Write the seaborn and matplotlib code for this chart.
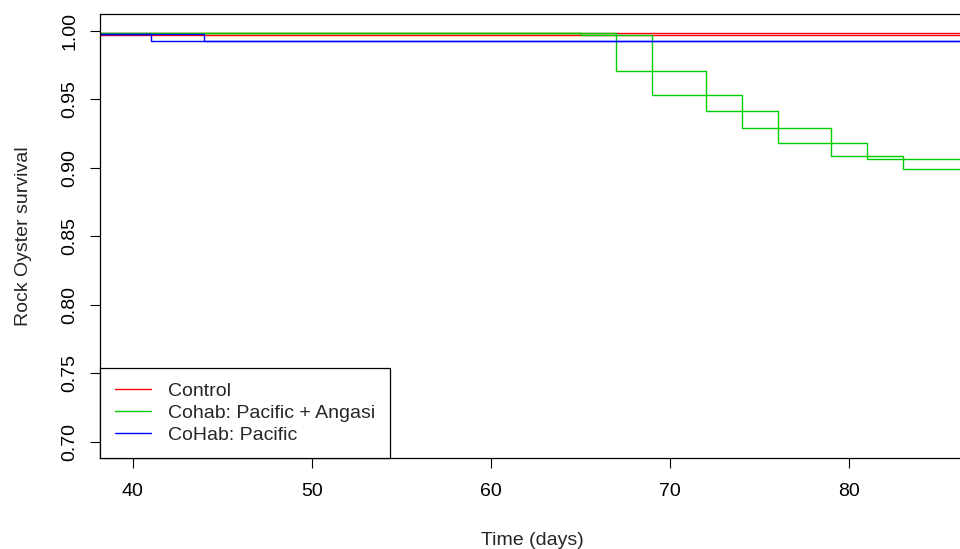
import matplotlib
matplotlib.use("Agg")
import matplotlib.pyplot as plt
from matplotlib.lines import Line2D
import pandas as pd
import seaborn as sns

# survival step curves, two tanks per treatment
control_a_t = [30, 90]
control_a_s = [0.9985, 0.9985]
control_b_t = [30, 90]
control_b_s = [0.9972, 0.9972]

pac_ang_a_t = [30, 65, 69, 74, 79, 83, 90]
pac_ang_a_s = [0.9985, 0.9969, 0.9528, 0.9291, 0.9085, 0.8990, 0.8990]
pac_ang_b_t = [30, 67, 72, 76, 81, 90]
pac_ang_b_s = [0.9985, 0.9708, 0.9414, 0.9180, 0.9060, 0.9060]

pacific_a_t = [30, 41, 90]
pacific_a_s = [0.9976, 0.9927, 0.9927]
pacific_b_t = [30, 44, 90]
pacific_b_s = [0.9976, 0.9927, 0.9927]

groups = ["Control", "Cohab: Pacific + Angasi", "CoHab: Pacific"]
colors = ["#FF0000", "#00CD00", "#0000FF"]

curves = [
    ("Control", "a", control_a_t, control_a_s),
    ("Control", "b", control_b_t, control_b_s),
    ("Cohab: Pacific + Angasi", "a", pac_ang_a_t, pac_ang_a_s),
    ("Cohab: Pacific + Angasi", "b", pac_ang_b_t, pac_ang_b_s),
    ("CoHab: Pacific", "a", pacific_a_t, pacific_a_s),
    ("CoHab: Pacific", "b", pacific_b_t, pacific_b_s),
]

rows = []
for grp, tank, ts, ss in curves:
    for t, s in zip(ts, ss):
        rows.append({"group": grp, "tank": tank, "time": t, "surv": s})
df = pd.DataFrame(rows)

sns.set_style("white")
plt.rcParams["font.family"] = ["Liberation Sans", "DejaVu Sans"]

fig = plt.figure(figsize=(9.6, 5.49), dpi=100)
ax = fig.add_axes([100 / 960, 90.7 / 549, 865 / 960, 444.3 / 549])

for grp, col in zip(groups, colors):
    sns.lineplot(data=df[df["group"] == grp], x="time", y="surv",
                 units="tank", estimator=None, color=col,
                 drawstyle="steps-post", linewidth=1.0, legend=False, ax=ax)

ax.set_xlim(38.175, 86.46)
ax.set_ylim(0.6879, 1.0122)
ax.set_xticks([40, 50, 60, 70, 80])
ax.set_yticks([0.70, 0.75, 0.80, 0.85, 0.90, 0.95, 1.00])
ax.set_yticklabels([f"{v:.2f}" for v in ax.get_yticks()],
                   rotation=90, va="center")

ax.tick_params(axis="both", direction="out", length=7.5, width=0.8,
               color="black", labelsize=14, labelcolor="black")
ax.tick_params(axis="x", pad=10)
ax.tick_params(axis="y", pad=8)
ax.tick_params(left=True, bottom=True)

for side in ["left", "bottom", "top"]:
    ax.spines[side].set_color("black")
    ax.spines[side].set_linewidth(0.9)
ax.spines["right"].set_visible(False)

ax.set_xlabel("Time (days)", fontsize=14, labelpad=23)
ax.set_ylabel("Rock Oyster survival", fontsize=14, labelpad=21)

handles = [Line2D([], [], color=c, lw=1.0) for c in colors]
leg = ax.legend(handles, groups, loc="lower left", bbox_to_anchor=(0, 0),
                borderaxespad=0, fontsize=14, fancybox=False, framealpha=1,
                edgecolor="black", handlelength=1.85, handletextpad=0.9,
                labelspacing=0.22, borderpad=0.75)
leg.get_frame().set_linewidth(0.9)

fig.savefig("out.png", dpi=100)
